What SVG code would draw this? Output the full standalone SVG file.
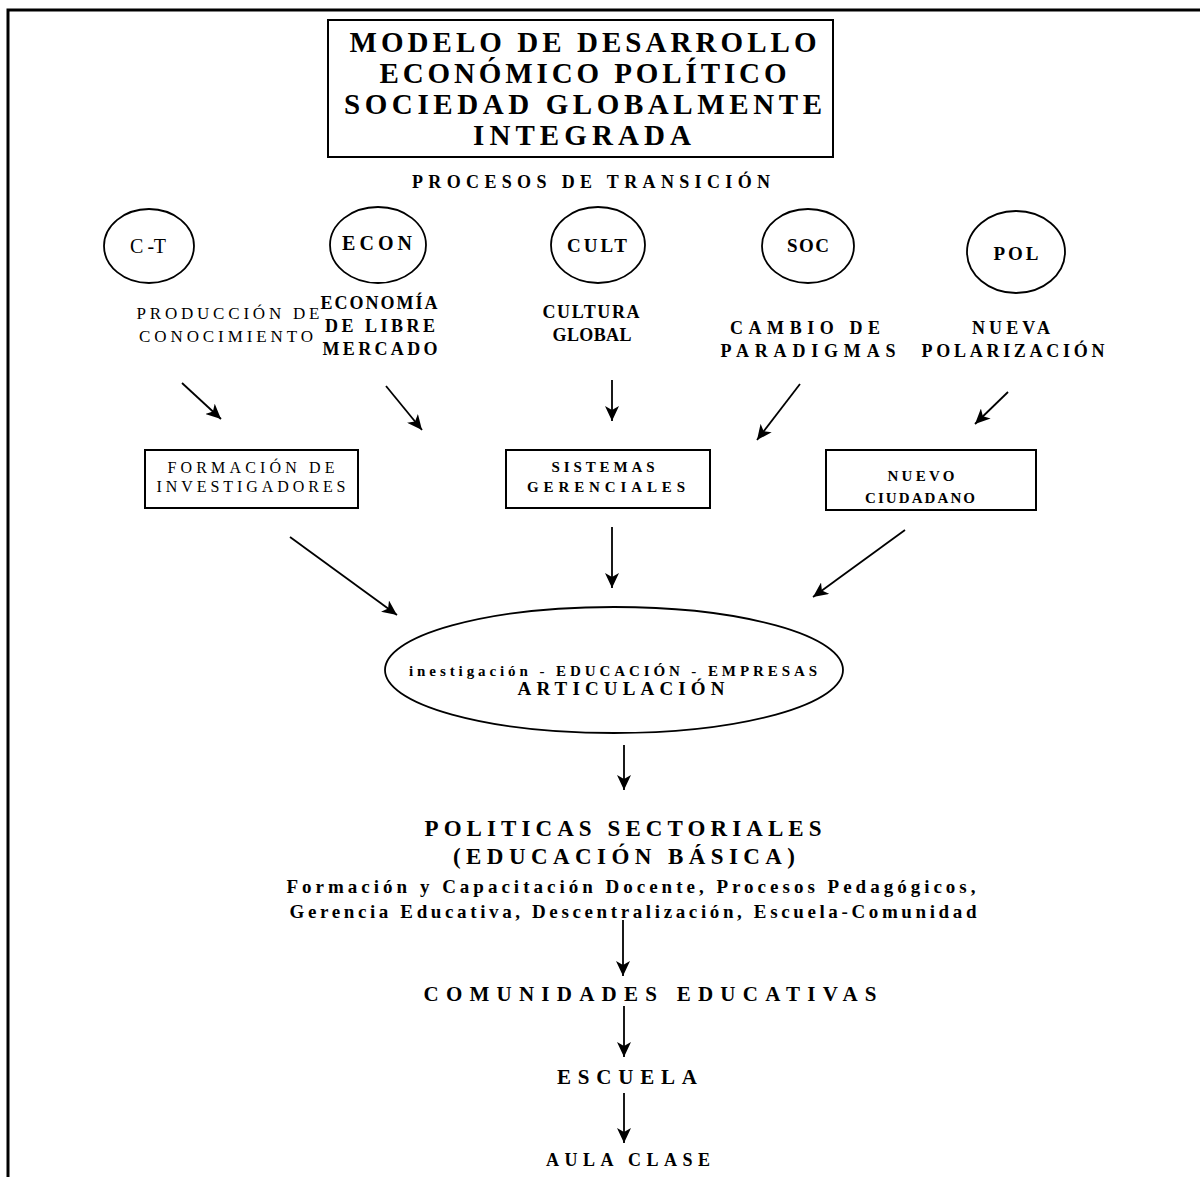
<svg xmlns="http://www.w3.org/2000/svg" width="1200" height="1177" viewBox="0 0 1200 1177">
  <style>
    text { font-family: "Liberation Serif", "Times New Roman", serif; fill: #000; text-anchor: middle; }
    .b { font-weight: bold; }
    .frame { stroke: #000; stroke-width: 3; fill: none; }
    .box { stroke: #000; stroke-width: 2; fill: #fff; }
    .ell { stroke: #000; stroke-width: 1.8; fill: #fff; }
    .conn line { stroke: #000; stroke-width: 1.8; marker-end: url(#arrow); }
  </style>
  <defs>
    <marker id="arrow" markerUnits="userSpaceOnUse" markerWidth="16" markerHeight="14" refX="15" refY="7" orient="auto">
      <path d="M0,0 L15,7 L0,14 L4,7 Z" fill="#000"/>
    </marker>
  </defs>
  <rect width="1200" height="1177" fill="#fff"/>

  <!-- page frame -->
  <path class="frame" d="M1200,10 H8 V1177"/>

  <!-- header -->
  <g id="titulo">
    <rect class="box" x="328" y="20" width="505" height="137"/>
    <text class="b" x="583" y="52" font-size="29" textLength="467" lengthAdjust="spacing">MODELO DE DESARROLLO</text>
    <text class="b" x="583" y="83" font-size="29" textLength="407" lengthAdjust="spacing">ECONÓMICO POLÍTICO</text>
    <text class="b" x="583" y="114" font-size="29" textLength="478" lengthAdjust="spacing">SOCIEDAD GLOBALMENTE</text>
    <text class="b" x="582" y="145" font-size="29" textLength="218" lengthAdjust="spacing">INTEGRADA</text>
  </g>
  <g id="procesos">
    <text class="b" x="591" y="188" font-size="18" textLength="358" lengthAdjust="spacing">PROCESOS DE TRANSICIÓN</text>
  </g>

  <!-- process ellipses -->
  <g id="ct">
    <ellipse class="ell" cx="149" cy="246" rx="45" ry="37"/>
    <text x="148" y="253" font-size="20" textLength="36" lengthAdjust="spacing">C -T</text>
  </g>
  <g id="econ">
    <ellipse class="ell" cx="378" cy="245" rx="48" ry="38"/>
    <text class="b" x="377" y="250" font-size="20" textLength="70" lengthAdjust="spacing">ECON</text>
  </g>
  <g id="cult">
    <ellipse class="ell" cx="598" cy="245" rx="47" ry="38"/>
    <text class="b" x="597" y="252" font-size="19" textLength="60" lengthAdjust="spacing">CULT</text>
  </g>
  <g id="soc">
    <ellipse class="ell" cx="808" cy="246" rx="46" ry="37"/>
    <text class="b" x="808" y="252" font-size="19" textLength="42" lengthAdjust="spacing">SOC</text>
  </g>
  <g id="pol">
    <ellipse class="ell" cx="1016" cy="252" rx="49" ry="41"/>
    <text class="b" x="1016" y="260" font-size="19" textLength="45" lengthAdjust="spacing">POL</text>
  </g>

  <!-- process descriptions -->
  <g id="produccion">
    <text x="228" y="319" font-size="17" textLength="183" lengthAdjust="spacing">PRODUCCIÓN DE</text>
    <text x="226" y="342" font-size="17" textLength="174" lengthAdjust="spacing">CONOCIMIENTO</text>
  </g>
  <g id="economia">
    <text class="b" x="379" y="309" font-size="18" textLength="117" lengthAdjust="spacing">ECONOMÍA</text>
    <text class="b" x="380" y="332" font-size="18" textLength="110" lengthAdjust="spacing">DE LIBRE</text>
    <text class="b" x="380" y="355" font-size="18" textLength="115" lengthAdjust="spacing">MERCADO</text>
  </g>
  <g id="cultura">
    <text class="b" x="591" y="318" font-size="18" textLength="97" lengthAdjust="spacing">CULTURA</text>
    <text class="b" x="592" y="341" font-size="18" textLength="79" lengthAdjust="spacing">GLOBAL</text>
  </g>
  <g id="cambio">
    <text class="b" x="805" y="334" font-size="18" textLength="150" lengthAdjust="spacing">CAMBIO DE</text>
    <text class="b" x="808" y="357" font-size="18" textLength="175" lengthAdjust="spacing">PARADIGMAS</text>
  </g>
  <g id="polarizacion">
    <text class="b" x="1011" y="334" font-size="18" textLength="78" lengthAdjust="spacing">NUEVA</text>
    <text class="b" x="1013" y="357" font-size="18" textLength="183" lengthAdjust="spacing">POLARIZACIÓN</text>
  </g>

  <!-- outcome boxes -->
  <g id="formacion">
    <rect class="box" x="145" y="450" width="213" height="58"/>
    <text x="251" y="473" font-size="16" textLength="167" lengthAdjust="spacing">FORMACIÓN DE</text>
    <text x="251" y="492" font-size="16" textLength="189" lengthAdjust="spacing">INVESTIGADORES</text>
  </g>
  <g id="sistemas">
    <rect class="box" x="506" y="450" width="204" height="58"/>
    <text class="b" x="603" y="472" font-size="15" textLength="103" lengthAdjust="spacing">SISTEMAS</text>
    <text class="b" x="606" y="492" font-size="15" textLength="158" lengthAdjust="spacing">GERENCIALES</text>
  </g>
  <g id="ciudadano">
    <rect class="box" x="826" y="450" width="210" height="60"/>
    <text class="b" x="921" y="481" font-size="15" textLength="67" lengthAdjust="spacing">NUEVO</text>
    <text class="b" x="920" y="503" font-size="15" textLength="110" lengthAdjust="spacing">CIUDADANO</text>
  </g>

  <!-- articulation -->
  <g id="articulacion">
    <ellipse class="ell" cx="614" cy="670" rx="229" ry="63" stroke-width="1.6"/>
    <text class="b" x="613" y="676" font-size="15" textLength="408" lengthAdjust="spacing">inestigación - EDUCACIÓN - EMPRESAS</text>
    <text class="b" x="621" y="695" font-size="19" textLength="207" lengthAdjust="spacing">ARTICULACIÓN</text>
  </g>

  <!-- sector policies and levels -->
  <g id="politicas">
    <text class="b" x="623" y="836" font-size="23" textLength="397" lengthAdjust="spacing">POLITICAS SECTORIALES</text>
    <text class="b" x="624" y="864" font-size="23" textLength="342" lengthAdjust="spacing">(EDUCACIÓN BÁSICA)</text>
    <text class="b" x="631" y="893" font-size="19" textLength="689" lengthAdjust="spacing">Formación  y Capacitación Docente, Procesos Pedagógicos,</text>
    <text class="b" x="633" y="918" font-size="19" textLength="687" lengthAdjust="spacing">Gerencia Educativa, Descentralización, Escuela-Comunidad</text>
  </g>
  <g id="comunidades">
    <text class="b" x="650" y="1001" font-size="21" textLength="453" lengthAdjust="spacing">COMUNIDADES EDUCATIVAS</text>
  </g>
  <g id="escuela">
    <text class="b" x="627" y="1084" font-size="21" textLength="140" lengthAdjust="spacing">ESCUELA</text>
  </g>
  <g id="aula">
    <text class="b" x="628" y="1166" font-size="18" textLength="164" lengthAdjust="spacing">AULA CLASE</text>
  </g>

  <!-- connectors -->
  <g class="conn" id="conectores">
    <line x1="182" y1="383" x2="221" y2="419"/>
    <line x1="386" y1="386" x2="422" y2="430"/>
    <line x1="612" y1="380" x2="612" y2="421"/>
    <line x1="800" y1="384" x2="757" y2="440"/>
    <line x1="1008" y1="392" x2="975" y2="424"/>
    <line x1="290" y1="537" x2="397" y2="615"/>
    <line x1="612" y1="527" x2="612" y2="588"/>
    <line x1="905" y1="530" x2="813" y2="597"/>
    <line x1="624" y1="745" x2="624" y2="790"/>
    <line x1="623" y1="920" x2="623" y2="976"/>
    <line x1="624" y1="1006" x2="624" y2="1057"/>
    <line x1="624" y1="1093" x2="624" y2="1143"/>
  </g>
</svg>
